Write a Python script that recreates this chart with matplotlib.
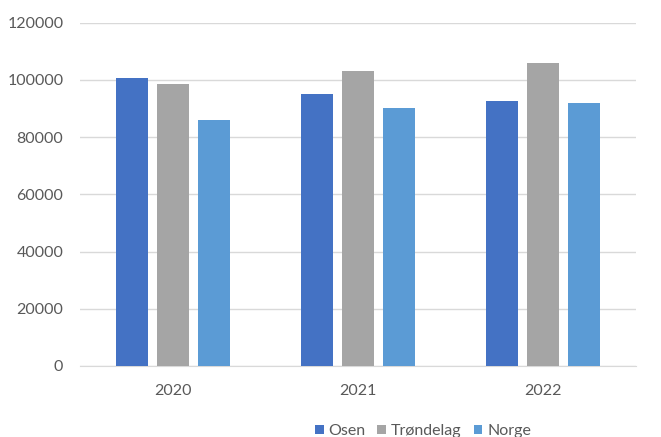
import numpy as np
import matplotlib.pyplot as plt

# Data
years = ['2020', '2021', '2022']
osen = [100600, 95200, 92700]
trondelag = [98700, 103200, 106000]
norge = [86100, 90300, 91800]

series = [('Osen', osen, '#4472C4'),
          ('Trøndelag', trondelag, '#A5A5A5'),
          ('Norge', norge, '#5B9BD5')]

plt.rcParams['font.family'] = ['Lato', 'DejaVu Sans']

fig = plt.figure(figsize=(6.61, 4.37), dpi=100)
ax = fig.add_axes([0.121, 0.1625, 0.841, 0.7855])

x = np.arange(len(years))
width = 0.173
pitch = 0.221
for i, (name, vals, color) in enumerate(series):
    ax.bar(x + (i - 1) * pitch, vals, width, color=color, label=name, zorder=3)

ax.set_xlim(-0.5, 2.5)
ax.set_ylim(0, 120000)
ax.set_yticks(np.arange(0, 120001, 20000))
ax.set_xticks(x)
ax.set_xticklabels(years)
ax.grid(axis='y', color='#D9D9D9', linewidth=1, zorder=0)
for s in ['top', 'right', 'left']:
    ax.spines[s].set_visible(False)
ax.spines['bottom'].set_color('#D9D9D9')
ax.tick_params(axis='both', length=0, colors='#595959', labelsize=11.5)
ax.tick_params(axis='y', pad=12)
ax.tick_params(axis='x', pad=13)

ax.legend(loc='center', bbox_to_anchor=(0.617, -0.19), ncol=3, frameon=False,
          fontsize=11.5, handlelength=0.55, handleheight=0.55, handletextpad=0.3,
          columnspacing=0.75, labelcolor='#595959')

fig.savefig('out.png', dpi=100)
